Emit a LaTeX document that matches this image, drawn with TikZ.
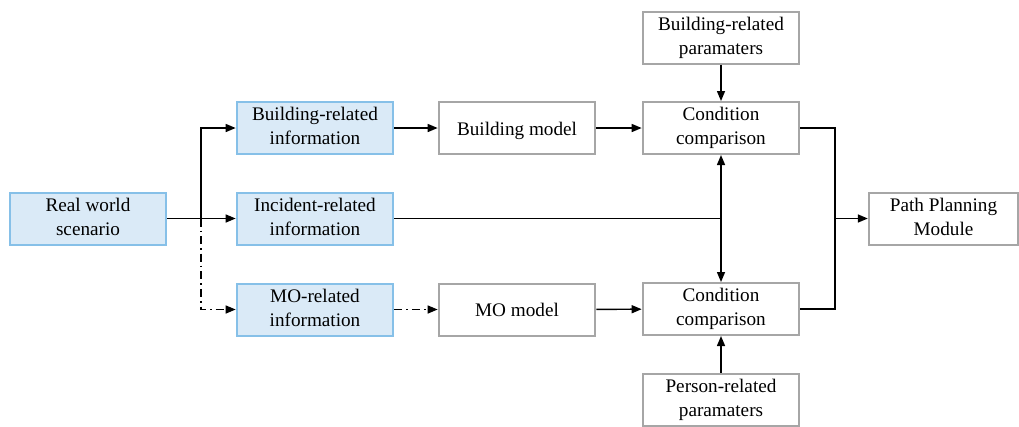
\documentclass[tikz,border=0pt]{standalone}
\usepackage{fontspec}
\setmainfont{Liberation Serif}
\usetikzlibrary{arrows.meta}
\definecolor{boxblue}{HTML}{DAEAF7}
\definecolor{lineblue}{HTML}{86C0E8}
\definecolor{linegray}{HTML}{A6A6A6}
\begin{document}
\begin{tikzpicture}[x=0.75pt,y=-0.75pt]
 \tikzstyle{infobox}=[draw=lineblue,fill=boxblue,line width=1.5pt,minimum
 width=117.5pt,minimum height=39pt,align=center,inner sep=0pt,
 font=\fontsize{14.4}{18}\selectfont,
 execute at begin node={\rule{0pt}{14pt}},
 execute at end node={\rule[-3pt]{0pt}{3pt}}]
 \tikzstyle{plainbox}=[infobox,draw=linegray,fill=white]
 \tikzstyle{arr}=[line width=1.1pt,-{Triangle[length=7.5pt,width=6pt]}]
 \tikzstyle{wire}=[line width=1.1pt]
 \tikzstyle{dashdot}=[dash pattern=on 6pt off 3pt on 1.2pt off 3pt]
\useasboundingbox (0,0) rectangle (1019,426);
\node[infobox] (real) at (88,218.5) {Real world\\scenario};
\node[infobox] (binfo) at (315,128) {Building-related\\information};
\node[infobox] (iinfo) at (315,218.5) {Incident-related\\information};
\node[infobox] (minfo) at (315,309.5) {MO-related\\information};
\node[plainbox] (bmodel) at (517,128) {Building model};
\node[plainbox] (mmodel) at (517,309.5) {MO model};
\node[plainbox] (cmpa) at (721,128) {Condition\\comparison};
\node[plainbox] (cmpb) at (721,309) {Condition\\comparison};
\node[plainbox] (bparam) at (721,37.5) {Building-related\\paramaters};
\node[plainbox] (pparam) at (721,399.5) {Person-related\\paramaters};
\node[plainbox,minimum width=112pt] (path) at (943.5,218.5) {Path Planning\\Module};
\coordinate (split) at (201,218.5);
\coordinate (meet) at (835,218.5);
\draw[arr] (real.east) -- (iinfo.west);
\draw[arr] (split) |- (binfo.west);
\draw[arr,dashdot] (split) |- (minfo.west);
\draw[arr] (binfo) -- (bmodel);
\draw[arr] (bmodel) -- (cmpa);
\draw[arr,dashdot] (minfo) -- (mmodel);
\draw[arr] (mmodel) -- (cmpb);
\draw[arr] (bparam) -- (cmpa);
\draw[arr] (pparam) -- (cmpb);
\draw[wire] (iinfo.east) -- (cmpa.south |- iinfo.east) coordinate (cross);
\draw[arr] (cross) -- (cmpa.south);
\draw[arr] (cross) -- (cmpb.north);
\draw[wire] (cmpa.east) -| (meet) |- (cmpb.east);
\draw[arr] (meet) -- (path.west);
\end{tikzpicture}
\end{document}
